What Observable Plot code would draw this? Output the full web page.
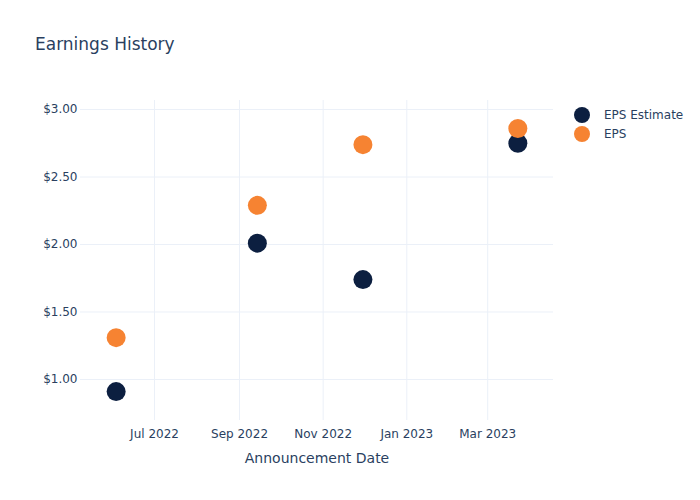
<!DOCTYPE html>
<html>
<head>
<meta charset="utf-8">
<script src="https://cdn.jsdelivr.net/npm/d3@7"></script>
<script src="https://cdn.jsdelivr.net/npm/@observablehq/plot@0.6"></script>
<style>
  html, body { margin: 0; padding: 0; background: #fff; }
  body { font-family: "DejaVu Sans", sans-serif; color: #2a3f5f; }
  #wrap { position: relative; width: 700px; height: 500px; }
  #title { height: 60px; position: relative; }
  #title span { position: absolute; left: 35px; top: 34px; font-size: 17px; color: #2a3f5f; }
  #legend { position: absolute; left: 574px; top: 105px; font-size: 12px; }
  .item { display: flex; align-items: center; height: 19px; }
  .sw { width: 16px; height: 16px; border-radius: 50%; margin-right: 14px; }
</style>
</head>
<body>
<div id="wrap">
  <div id="title"><span>Earnings History</span></div>
  <div id="chart"></div>
  <div id="legend"></div>
</div>
<script>
const dates = ["2022-06-03", "2022-09-14", "2022-11-30", "2023-03-23"];
const epsEstimate = [0.91, 2.01, 1.74, 2.75];
const eps = [1.31, 2.29, 2.74, 2.86];
const seriesNames = ["EPS Estimate", "EPS"];
const seriesColors = ["#0c1f40", "#f68332"];
const xTicks = ["2022-07-01", "2022-09-01", "2022-11-01", "2023-01-01", "2023-03-01"];
const yTicks = [1.0, 1.5, 2.0, 2.5, 3.0];

const parse = d3.utcParse("%Y-%m-%d");
const rows = [];
dates.forEach((d, i) => {
  rows.push({date: parse(d), value: epsEstimate[i], series: seriesNames[0]});
});
dates.forEach((d, i) => {
  rows.push({date: parse(d), value: eps[i], series: seriesNames[1]});
});

const chart = Plot.plot({
  width: 700,
  height: 440,
  marginLeft: 80,
  marginRight: 147,
  marginTop: 40,
  marginBottom: 80,
  style: {fontFamily: "DejaVu Sans, sans-serif", fontSize: "12px", color: "#2a3f5f", background: "#fff"},
  x: {
    type: "utc",
    domain: [parse("2022-05-08"), parse("2023-04-18")],
    ticks: xTicks.map(parse),
    tickFormat: d3.utcFormat("%b %Y"),
    tickSize: 0,
    tickPadding: 9,
    label: "Announcement Date",
    labelAnchor: "center",
    labelArrow: "none",
    labelOffset: 42
  },
  y: {
    domain: [0.696, 3.067],
    ticks: yTicks,
    tickFormat: v => "$" + v.toFixed(2),
    tickSize: 0,
    tickPadding: 3,
    label: null
  },
  color: {domain: seriesNames, range: seriesColors},
  marks: [
    Plot.gridX(xTicks.map(parse), {stroke: "#ebf0f8", strokeOpacity: 1, strokeWidth: 1}),
    Plot.gridY(yTicks, {stroke: "#ebf0f8", strokeOpacity: 1, strokeWidth: 1}),
    Plot.axisX({ticks: xTicks.map(parse), tickFormat: d3.utcFormat("%b %Y"), tickSize: 0, tickPadding: 9, label: "Announcement Date", labelAnchor: "center", labelArrow: "none", labelOffset: 42, fontSize: 12}),
    Plot.axisY({ticks: yTicks, tickFormat: v => "$" + v.toFixed(2), tickSize: 0, tickPadding: 3, label: null, fontSize: 12}),
    Plot.dot(rows, {x: "date", y: "value", fill: "series", r: 9.5, stroke: null})
  ]
});
chart.querySelectorAll("g[aria-label='x-axis label'] text, g[aria-label='x-axis label']").forEach(el => { el.style.fontSize = "14px"; });
document.getElementById("chart").appendChild(chart);

const legend = document.getElementById("legend");
seriesNames.forEach((name, i) => {
  const item = document.createElement("div");
  item.className = "item";
  const sw = document.createElement("div");
  sw.className = "sw";
  sw.style.background = seriesColors[i];
  const label = document.createElement("span");
  label.textContent = name;
  item.appendChild(sw);
  item.appendChild(label);
  legend.appendChild(item);
});
</script>
</body>
</html>
